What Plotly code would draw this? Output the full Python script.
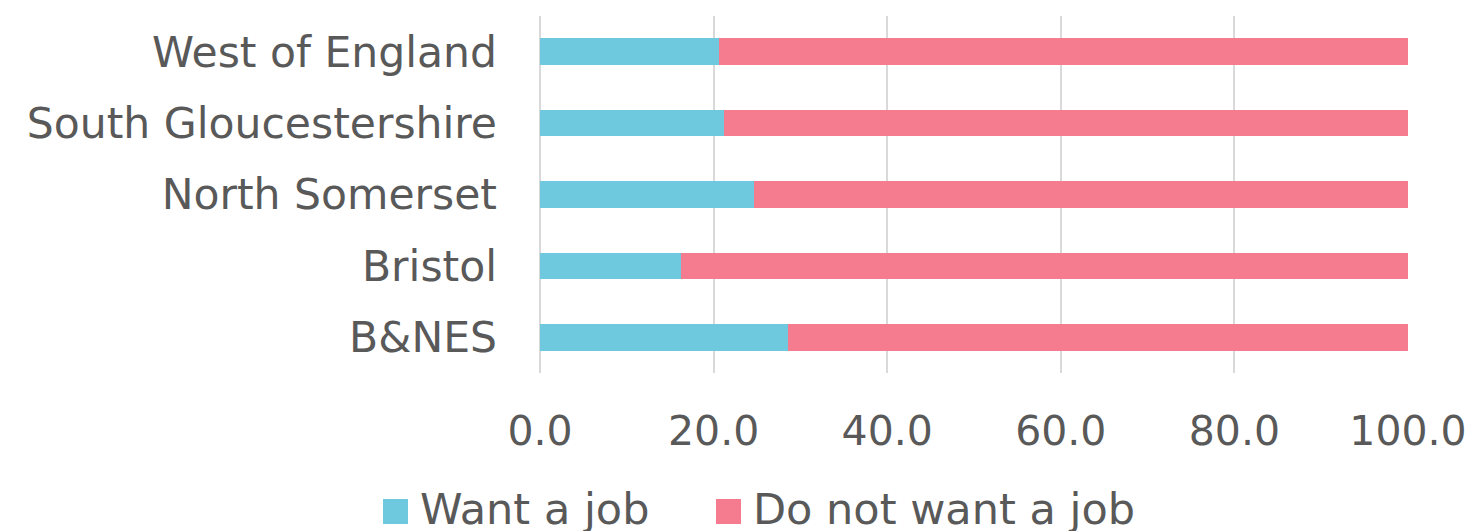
import plotly.graph_objects as go

# Share of people not in work who want / do not want a job, by area (%)
areas = ["B&NES", "Bristol", "North Somerset", "South Gloucestershire", "West of England"]
want_job = [28.6, 16.3, 24.6, 21.2, 20.6]
not_want_job = [71.4, 83.7, 75.4, 78.8, 79.4]
x_ticks = [0, 20, 40, 60, 80, 100]
x_tick_text = ["0.0", "20.0", "40.0", "60.0", "80.0", "100.0"]

series_names = ["Want a job", "Do not want a job"]
colors = ["#6EC8DE", "#F47C8E"]
text_color = "#595959"
font_family = "DejaVu Sans"

fig = go.Figure()
for name, vals, col in zip(series_names, [want_job, not_want_job], colors):
    fig.add_trace(go.Bar(
        y=areas, x=vals, name=name, orientation="h",
        marker=dict(color=col, line=dict(width=0)),
        showlegend=False,
    ))

# Legend drawn as swatches + labels below the axis
legend_items = [(383, 418), (716, 751)]
for (sx, tx), name, col in zip(legend_items, series_names, colors):
    fig.add_shape(type="rect", xref="paper", yref="paper",
                  x0=(sx - 540) / 868, x1=(sx + 25 - 540) / 868,
                  y0=(373 - 524) / 357, y1=(373 - 499) / 357,
                  fillcolor=col, line=dict(width=0))
    fig.add_annotation(text=name, xref="paper", yref="paper",
                       x=(tx - 540) / 868, y=(373 - 509) / 357,
                       xanchor="left", yanchor="middle", showarrow=False,
                       font=dict(size=43, color=text_color, family=font_family))

fig.update_layout(
    width=1475, height=531,
    margin=dict(l=540, r=67, t=16, b=158, autoexpand=False),
    barmode="stack", bargap=0.63,
    plot_bgcolor="white", paper_bgcolor="white",
    font=dict(family=font_family, color=text_color, size=42),
)
fig.update_xaxes(
    range=[0, 100], tickvals=x_ticks, ticktext=x_tick_text,
    showgrid=True, gridcolor="#D9D9D9", gridwidth=2,
    zeroline=True, zerolinecolor="#D9D9D9", zerolinewidth=2,
    showline=False, ticks="", ticklabelstandoff=30, automargin=False,
    tickfont=dict(size=41, color=text_color, family=font_family),
)
fig.update_yaxes(
    categoryorder="array", categoryarray=areas,
    showgrid=False, showline=False, ticks="", ticklabelstandoff=42,
    automargin=False,
    tickfont=dict(size=42.5, color=text_color, family=font_family),
)

fig.write_html("out.html")
